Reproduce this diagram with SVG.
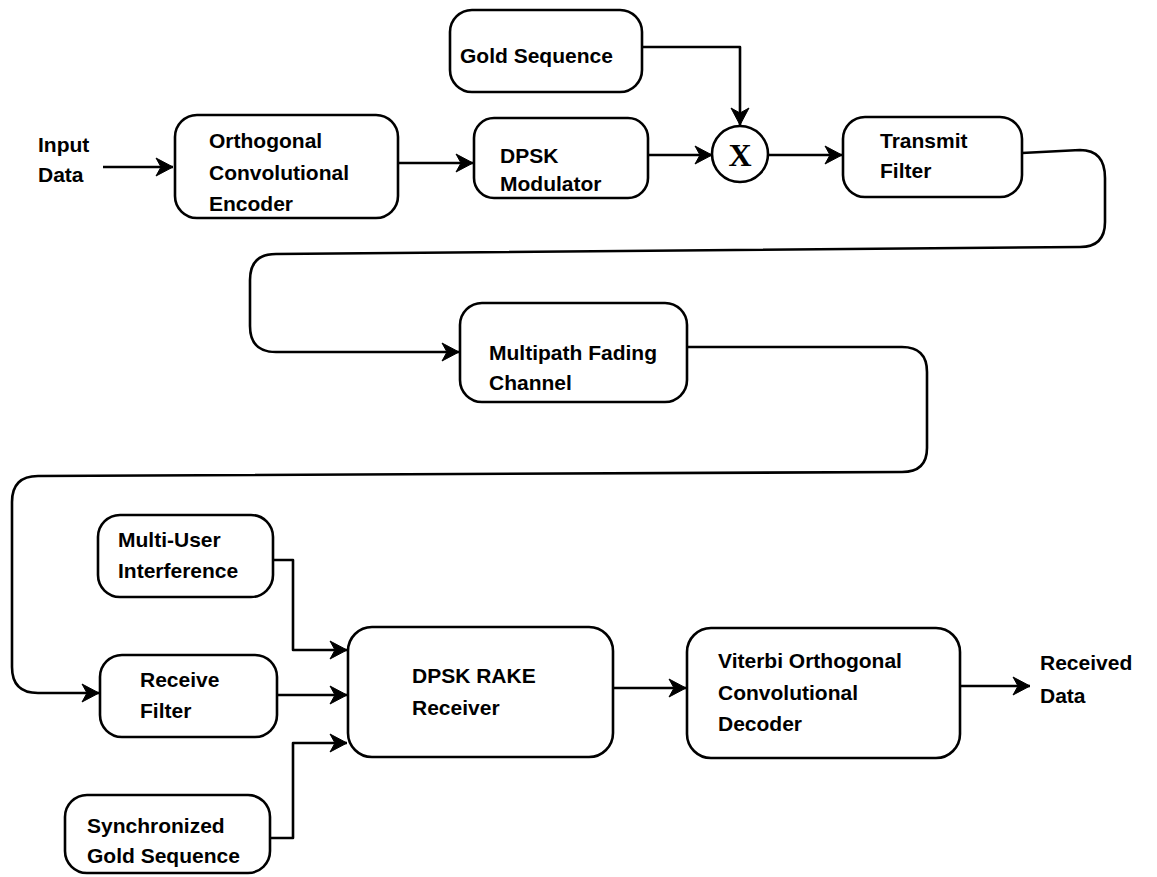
<svg xmlns="http://www.w3.org/2000/svg" width="1157" height="877" viewBox="0 0 1157 877">
  <style>
    .box { fill: #fff; stroke: #000; stroke-width: 2.6; }
    .wire { fill: none; stroke: #000; stroke-width: 2.6; stroke-linejoin: round; }
    .arrow { marker-end: url(#head); }
    text { font-family: "Liberation Sans", Arial, Helvetica, sans-serif; font-weight: bold; font-size: 21px; fill: #000; }
    .mult { font-family: "Liberation Serif", "Times New Roman", serif; font-weight: bold; font-size: 32px; }
  </style>
  <defs>
    <!-- barbed arrowhead shared by every connector -->
    <marker id="head" markerUnits="userSpaceOnUse" viewBox="-18 -11 19 22" refX="0" refY="0" markerWidth="19" markerHeight="22" orient="auto">
      <path d="M-17,-9 L0,0 L-17,9 L-12,0 z" fill="#000" stroke="#000" stroke-width="1" stroke-linejoin="miter"/>
    </marker>
  </defs>
  <rect width="1157" height="877" fill="#fff"/>

  <!-- connectors -->
  <g id="connectors">
    <path class="wire arrow" d="M103,167 L173,167"/>
    <path class="wire arrow" d="M398,163 L473,163"/>
    <path class="wire arrow" d="M642,47 L740,47 L740,125"/>
    <path class="wire arrow" d="M648,155 L712,155"/>
    <path class="wire arrow" d="M768,155 L842,155"/>
    <!-- transmit filter to channel -->
    <path class="wire arrow" d="M1022,153 L1080,150 Q1105,150 1105,178 L1105,222 Q1105,247 1080,247 L276,254 Q250,254 250,280 L250,326 Q250,352 276,352 L459,352"/>
    <!-- channel to receive filter -->
    <path class="wire arrow" d="M687,347 L902,347 Q927,347 927,372 L927,448 Q927,472 902,472 L38,476 Q12,476 12,502 L12,667 Q12,693 38,693 L99,693"/>
    <path class="wire arrow" d="M273,560 L293,560 L293,650 L347,650"/>
    <path class="wire arrow" d="M277,695 L347,695"/>
    <path class="wire arrow" d="M270,838 L293,838 L293,743 L347,743"/>
    <path class="wire arrow" d="M613,688 L686,688"/>
    <path class="wire arrow" d="M960,686 L1030,686"/>
  </g>

  <g id="input-data">
    <text x="38" y="152">Input</text>
    <text x="38" y="182">Data</text>
  </g>

  <g id="encoder">
    <rect class="box" x="175" y="115" width="223" height="103" rx="22"/>
    <text x="209" y="148">Orthogonal</text>
    <text x="209" y="180">Convolutional</text>
    <text x="209" y="211">Encoder</text>
  </g>

  <g id="gold-sequence">
    <rect class="box" x="450" y="10" width="192" height="82" rx="22"/>
    <text x="460" y="63">Gold Sequence</text>
  </g>

  <g id="dpsk-modulator">
    <rect class="box" x="474" y="118" width="174" height="80" rx="20"/>
    <text x="500" y="163">DPSK</text>
    <text x="500" y="191">Modulator</text>
  </g>

  <g id="multiplier">
    <circle cx="740" cy="154" r="28" fill="#fff" stroke="#000" stroke-width="2.6"/>
    <text class="mult" x="740" y="166" text-anchor="middle">X</text>
  </g>

  <g id="transmit-filter">
    <rect class="box" x="843" y="117" width="179" height="80" rx="22"/>
    <text x="880" y="148">Transmit</text>
    <text x="880" y="178">Filter</text>
  </g>

  <g id="multipath-channel">
    <rect class="box" x="460" y="303" width="227" height="99" rx="22"/>
    <text x="489" y="360">Multipath Fading</text>
    <text x="489" y="390">Channel</text>
  </g>

  <g id="multi-user-interference">
    <rect class="box" x="98" y="515" width="175" height="82" rx="22"/>
    <text x="118" y="547">Multi-User</text>
    <text x="118" y="578">Interference</text>
  </g>

  <g id="receive-filter">
    <rect class="box" x="100" y="655" width="177" height="82" rx="22"/>
    <text x="140" y="687">Receive</text>
    <text x="140" y="718">Filter</text>
  </g>

  <g id="sync-gold-sequence">
    <rect class="box" x="65" y="795" width="205" height="78" rx="22"/>
    <text x="87" y="833">Synchronized</text>
    <text x="87" y="863">Gold Sequence</text>
  </g>

  <g id="rake-receiver">
    <rect class="box" x="348" y="627" width="265" height="130" rx="24"/>
    <text x="412" y="683">DPSK RAKE</text>
    <text x="412" y="715">Receiver</text>
  </g>

  <g id="viterbi-decoder">
    <rect class="box" x="687" y="628" width="273" height="130" rx="24"/>
    <text x="718" y="668">Viterbi Orthogonal</text>
    <text x="718" y="700">Convolutional</text>
    <text x="718" y="731">Decoder</text>
  </g>

  <g id="received-data">
    <text x="1040" y="670">Received</text>
    <text x="1040" y="703">Data</text>
  </g>
</svg>
